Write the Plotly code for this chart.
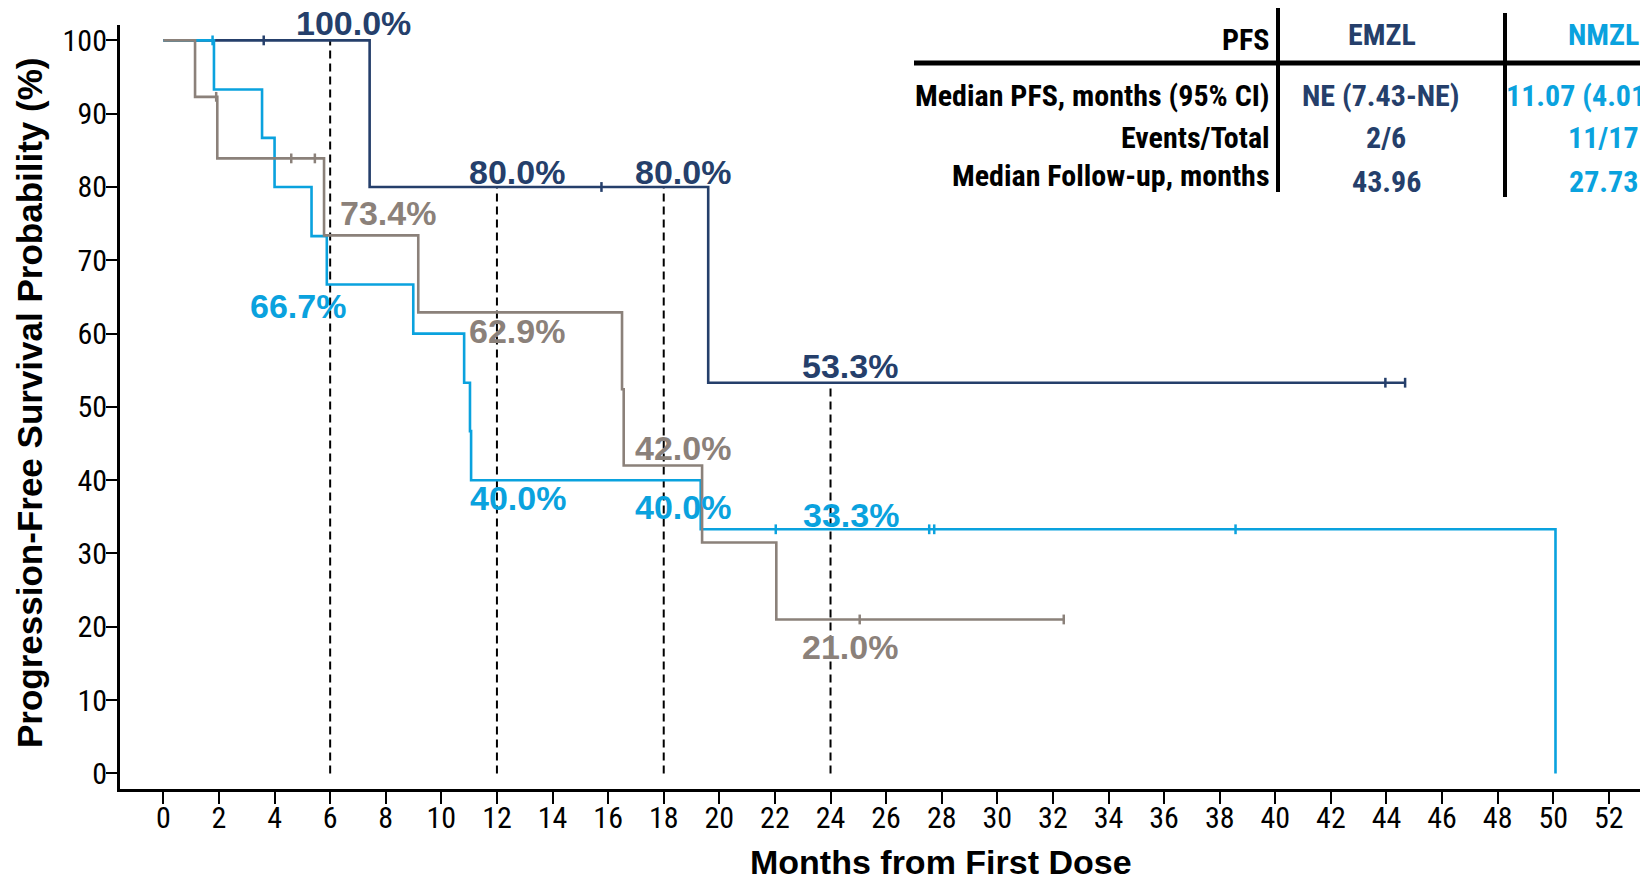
import plotly.graph_objects as go

# ---------------- data ----------------
emzl_t = [0, 7.42, 19.6, 44.67]
emzl_s = [100.0, 80.0, 53.3, 53.3]
emzl_cens = [3.61, 15.76, 43.96, 44.67]

nmzl_t = [0, 1.82, 3.55, 4.0, 5.33, 5.88, 8.99, 10.82, 11.03, 11.07, 19.33, 50.08]
nmzl_s = [100.0, 93.3, 86.7, 80.0, 73.3, 66.7, 60.0, 53.3, 46.7, 40.0, 33.3, 0.0]
nmzl_cens = [1.77, 22.03, 27.55, 27.73, 38.57]

other_t = [0, 1.14, 1.94, 5.78, 9.17, 16.5, 16.56, 19.38, 22.05, 32.39]
other_s = [100.0, 92.3, 83.9, 73.4, 62.9, 52.4, 42.0, 31.5, 21.0, 21.0]
other_cens = [1.9, 4.6, 5.45, 25.05, 32.39]

landmarks = [6, 12, 18, 24]

x_ticks = list(range(0, 53, 2))
y_ticks = list(range(0, 101, 10))

table_rows = ["Median PFS, months (95% CI)", "Events/Total", "Median Follow-up, months"]
emzl_col = ["NE (7.43-NE)", "2/6", "43.96"]
nmzl_col = ["11.07 (4.01-NE)", "11/17", "27.73"]

# ---------------- style ----------------
NAVY = "#253f6b"
BLUE = "#0aa2de"
GRAY = "#8b817a"
NARROW = "Liberation Sans Narrow, Arial Narrow, Roboto Condensed, sans-serif"
ARIAL = "Liberation Sans, Arial, sans-serif"

W, H = 1640, 880
ML, MR, MT, MB = 120, 0, 25, 880 - 789
XR = [-1.56, 53.12]
YR = [-2.13, 102.1]


def px_x(px):   # page pixel -> paper
    return (px - ML) / (W - ML - MR)


def px_y(py):
    return (H - MB - py) / (H - MT - MB)


def data_y(v):  # data y -> paper (usable outside the axis range)
    return (v - YR[0]) / (YR[1] - YR[0])


def step(ts, ss, t):
    v = ss[0]
    for ti, si in zip(ts, ss):
        if ti <= t:
            v = si
    return v


fig = go.Figure()

# landmark dashed lines (height = EMZL value at landmark)
dx, dy = [], []
for m in landmarks:
    dx += [m, m, None]
    dy += [0, step(emzl_t, emzl_s, m), None]
fig.add_trace(go.Scatter(x=dx, y=dy, mode="lines",
                         line=dict(color="black", width=2, dash="8px,5px"),
                         hoverinfo="skip"))

for ts, ss, cens, col in [(emzl_t, emzl_s, emzl_cens, NAVY),
                          (nmzl_t, nmzl_s, nmzl_cens, BLUE),
                          (other_t, other_s, other_cens, GRAY)]:
    fig.add_trace(go.Scatter(x=ts, y=ss, mode="lines", line_shape="hv",
                             line=dict(color=col, width=2.6)))
    fig.add_trace(go.Scatter(x=cens, y=[step(ts, ss, c) for c in cens], mode="markers",
                             marker=dict(symbol="line-ns", size=7,
                                         line=dict(color=col, width=2.5)),
                             cliponaxis=False))

# landmark percentage labels
labels = [
    ("100.0%", 6.84, 102.4, NAVY),
    ("80.0%", 12.71, 82.0, NAVY),
    ("80.0%", 18.71, 82.0, NAVY),
    ("53.3%", 24.71, 55.6, NAVY),
    ("73.4%", 8.07, 76.4, GRAY),
    ("62.9%", 12.73, 60.3, GRAY),
    ("42.0%", 18.68, 44.4, GRAY),
    ("21.0%", 24.7, 17.2, GRAY),
    ("66.7%", 4.85, 63.8, BLUE),
    ("40.0%", 12.77, 37.6, BLUE),
    ("40.0%", 18.7, 36.4, BLUE),
    ("33.3%", 24.73, 35.3, BLUE),
]
for txt, lx, ly, col in labels:
    fig.add_annotation(x=lx, y=data_y(ly), xref="x", yref="paper", text=txt,
                       showarrow=False, xanchor="center", yanchor="middle",
                       font=dict(family=ARIAL, size=34, color=col, weight="bold"))

# axis titles
fig.add_annotation(x=px_x(941), y=px_y(862), xref="paper", yref="paper",
                   text="Months from First Dose", showarrow=False,
                   xanchor="center", yanchor="middle",
                   font=dict(family=ARIAL, size=34, color="black", weight="bold"))
fig.add_annotation(x=px_x(29), y=px_y(403), xref="paper", yref="paper",
                   text="Progression-Free Survival Probability (%)", showarrow=False,
                   textangle=-90, xanchor="center", yanchor="middle",
                   font=dict(family=ARIAL, size=35, color="black", weight="bold"))

# table
tfont = dict(family=NARROW, size=30, weight="bold")
fig.add_annotation(x=px_x(1272), y=px_y(40), xref="paper", yref="paper", text="PFS",
                   showarrow=False, xanchor="right", yanchor="middle",
                   font=dict(color="black", **tfont))
fig.add_annotation(x=px_x(1382), y=px_y(35), xref="paper", yref="paper", text="EMZL",
                   showarrow=False, xanchor="center", yanchor="middle",
                   font=dict(color=NAVY, **tfont))
fig.add_annotation(x=px_x(1603), y=px_y(35), xref="paper", yref="paper", text="NMZL",
                   showarrow=False, xanchor="center", yanchor="middle",
                   font=dict(color=BLUE, **tfont))
row_y = [95, 137, 176]
val_y = [95, 137, 181]
emzl_x = [1381, 1386, 1386]
for i, r in enumerate(table_rows):
    fig.add_annotation(x=px_x(1272), y=px_y(row_y[i]), xref="paper", yref="paper", text=r,
                       showarrow=False, xanchor="right", yanchor="middle",
                       font=dict(color="black", **tfont))
    fig.add_annotation(x=px_x(emzl_x[i]), y=px_y(val_y[i]), xref="paper", yref="paper",
                       text=emzl_col[i], showarrow=False, xanchor="center", yanchor="middle",
                       font=dict(color=NAVY, **tfont))
    fig.add_annotation(x=px_x(1603), y=px_y(val_y[i]), xref="paper", yref="paper",
                       text=nmzl_col[i], showarrow=False, xanchor="center", yanchor="middle",
                       font=dict(color=BLUE, **tfont))

fig.add_shape(type="line", xref="paper", yref="paper", x0=px_x(914), x1=px_x(1645),
              y0=px_y(63), y1=px_y(63), line=dict(color="black", width=5))
fig.add_shape(type="line", xref="paper", yref="paper", x0=px_x(1278), x1=px_x(1278),
              y0=px_y(8), y1=px_y(192), line=dict(color="black", width=4))
fig.add_shape(type="line", xref="paper", yref="paper", x0=px_x(1505), x1=px_x(1505),
              y0=px_y(13), y1=px_y(197), line=dict(color="black", width=4))

fig.update_layout(
    width=W, height=H, autosize=False,
    margin=dict(l=ML, r=MR, t=MT, b=MB),
    plot_bgcolor="white", paper_bgcolor="white",
    showlegend=False,
    xaxis=dict(range=XR, tickvals=x_ticks, ticks="outside", ticklen=12, tickwidth=2,
               tickcolor="black", showline=True, linewidth=3, linecolor="black",
               showgrid=False, zeroline=False, ticklabelstandoff=-12,
               tickfont=dict(family=NARROW, size=30, color="black")),
    yaxis=dict(range=YR, tickvals=y_ticks, ticks="outside", ticklen=11, tickwidth=2,
               tickcolor="black", showline=True, linewidth=3, linecolor="black",
               showgrid=False, zeroline=False, ticklabelstandoff=-7,
               tickfont=dict(family=NARROW, size=30, color="black")),
)

fig.write_html("out.html", config={"displayModeBar": False},
               post_script="document.body.style.margin='0px';"
                           "document.body.style.overflow='hidden';")
